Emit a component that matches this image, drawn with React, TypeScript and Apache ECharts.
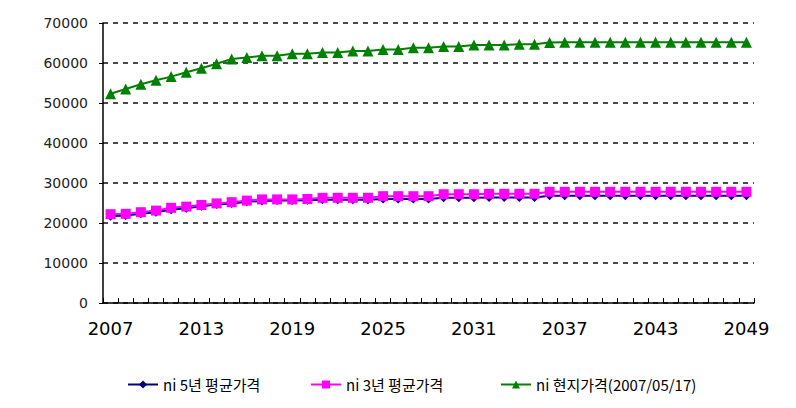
import React, { useEffect, useRef } from "react";
import * as echarts from "echarts";

const years: string[] = [
  "2007","2008","2009","2010","2011","2012","2013","2014","2015","2016",
  "2017","2018","2019","2020","2021","2022","2023","2024","2025","2026",
  "2027","2028","2029","2030","2031","2032","2033","2034","2035","2036",
  "2037","2038","2039","2040","2041","2042","2043","2044","2045","2046",
  "2047","2048","2049",
];

const avg5: number[] = [
  21700, 21900, 22300, 22700, 23300, 23700, 24200, 24600, 24900, 25300,
  25500, 25600, 25600, 25700, 25800, 25800, 25800, 25800, 26000, 26000,
  26000, 26000, 26300, 26300, 26300, 26400, 26400, 26400, 26400, 26800,
  26800, 26800, 26800, 26800, 26800, 26800, 26800, 26800, 26800, 26800,
  26800, 26800, 26800,
];

const avg3: number[] = [
  22200, 22300, 22700, 23100, 23800, 24100, 24500, 24900, 25200, 25600,
  25900, 25900, 25900, 26000, 26300, 26300, 26300, 26300, 26700, 26700,
  26700, 26700, 27200, 27200, 27200, 27300, 27300, 27300, 27300, 27800,
  27800, 27800, 27800, 27800, 27800, 27800, 27800, 27800, 27800, 27800,
  27800, 27800, 27800,
];

const spot: number[] = [
  52300, 53500, 54700, 55700, 56600, 57700, 58700, 59800, 61000, 61400,
  61800, 61800, 62300, 62300, 62600, 62600, 63000, 63000, 63400, 63400,
  63800, 63800, 64100, 64100, 64500, 64500, 64500, 64700, 64700, 65100,
  65200, 65200, 65200, 65200, 65200, 65200, 65200, 65200, 65200, 65200,
  65200, 65200, 65200,
];

const seriesNames: string[] = [
  "ni 5년 평균가격",
  "ni 3년 평균가격",
  "ni 현지가격(2007/05/17)",
];

const FONT = "'DejaVu Sans', 'Noto Sans CJK KR', sans-serif";
const KFONT = "'Noto Sans CJK KR', 'DejaVu Sans', sans-serif";

export default function App() {
  const ref = useRef<HTMLDivElement>(null);

  useEffect(() => {
    document.body.style.margin = "0";
    if (!ref.current) return;
    const chart = echarts.init(ref.current, null, { renderer: "svg" });
    const legendBase = {
      top: 372,
      itemWidth: 30,
      itemHeight: 10,
      itemGap: 4,
      textStyle: { fontFamily: KFONT, fontSize: 15, color: "#000" },
    };
    chart.setOption({
      animation: false,
      backgroundColor: "#fff",
      grid: { left: 103, right: 42, top: 23, bottom: 105 },
      legend: [
        { ...legendBase, left: 122, data: [seriesNames[0]] },
        { ...legendBase, left: 305, data: [seriesNames[1]] },
        { ...legendBase, left: 495, data: [seriesNames[2]] },
      ],
      xAxis: {
        type: "category",
        data: years,
        boundaryGap: true,
        axisLine: { lineStyle: { color: "#000", width: 1.5 } },
        axisTick: {
          show: true,
          inside: true,
          length: 5,
          interval: 0,
          lineStyle: { color: "#000", width: 1 },
        },
        axisLabel: {
          interval: 5,
          margin: 16,
          color: "#000",
          fontFamily: FONT,
          fontSize: 18,
        },
        splitLine: { show: false },
      },
      yAxis: {
        type: "value",
        min: 0,
        max: 70000,
        interval: 10000,
        axisLine: { show: true, lineStyle: { color: "#000", width: 1.5 } },
        axisTick: { show: true, length: 4, lineStyle: { color: "#000" } },
        axisLabel: {
          margin: 15,
          color: "#222",
          fontFamily: FONT,
          fontSize: 14,
          formatter: (v: number) => String(v),
        },
        splitLine: {
          show: true,
          lineStyle: { color: "#111", type: [5, 5], width: 1.5 },
        },
      },
      series: [
        {
          name: seriesNames[0],
          type: "line",
          data: avg5,
          symbol: "diamond",
          symbolSize: 9,
          showAllSymbol: true,
          itemStyle: { color: "#000080" },
          lineStyle: { color: "#000080", width: 2 },
          z: 2,
        },
        {
          name: seriesNames[1],
          type: "line",
          data: avg3,
          symbol: "rect",
          symbolSize: 10,
          showAllSymbol: true,
          itemStyle: { color: "#FF00FF" },
          lineStyle: { color: "#FF00FF", width: 2 },
          z: 3,
        },
        {
          name: seriesNames[2],
          type: "line",
          data: spot,
          symbol: "triangle",
          symbolSize: 11,
          showAllSymbol: true,
          itemStyle: { color: "#008000" },
          lineStyle: { color: "#008000", width: 2 },
          z: 4,
        },
      ],
    });
    return () => chart.dispose();
  }, []);

  return <div ref={ref} style={{ width: 796, height: 408 }} />;
}
